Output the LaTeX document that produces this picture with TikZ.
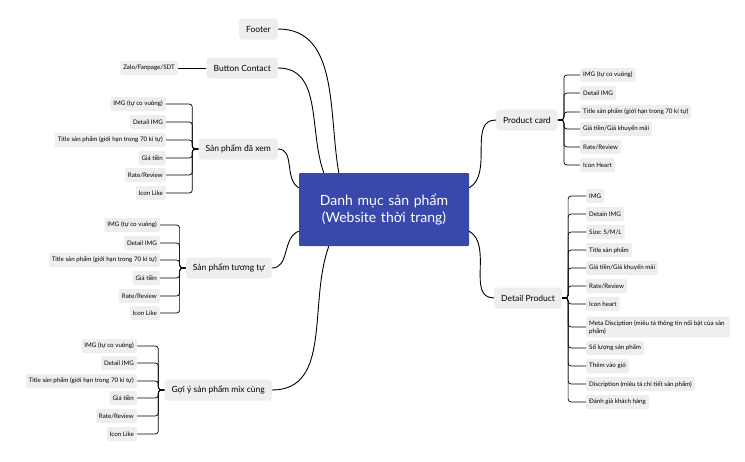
\documentclass[tikz,border=0pt]{standalone}
\usepackage{fontspec}
\setmainfont{Lato}
\usetikzlibrary{positioning}
\definecolor{leafgray}{HTML}{EEEEEE}
\definecolor{rootblue}{HTML}{3949AB}
\tikzset{
  root/.style={rectangle, fill=rootblue, text=white, align=center,
               font=\fontsize{14}{17}\selectfont, minimum width=170pt,
               minimum height=73pt, text width=135pt, rounded corners=1pt},
  branch/.style={rectangle, fill=leafgray, rounded corners=3pt,
                 font=\fontsize{8.5}{10}\selectfont, minimum height=21pt, inner xsep=7pt},
  leaf/.style={rectangle, fill=leafgray, rounded corners=2pt,
               font=\fontsize{6.2}{8}\selectfont, minimum height=14pt, inner xsep=3pt},
  link/.style={draw, line width=0.9pt},
  twig/.style={draw, line width=0.7pt, rounded corners=3pt}
}
\newcommand{\leftleaves}[3]{% parent, x, list of y/text
  \foreach \yy/\tt [count=\i] in {#3} {
    \node[leaf, anchor=east] (#1-\i) at (#2,\yy) {\tt};
    \draw[twig] (#1.west) -- ++(-6,0) |- (#1-\i.east);
  }}
\newcommand{\rightleaves}[3]{%
  \foreach \yy/\tt [count=\i] in {#3} {
    \node[leaf, anchor=west] (#1-\i) at (#2,\yy) {\tt};
    \draw[twig] (#1.east) -- ++(6,0) |- (#1-\i.west);
  }}
\begin{document}
\begin{tikzpicture}[x=1pt, y=-1pt]
  \useasboundingbox (0,0) rectangle (745,461);
  \node[root] (root) at (384,209.5) {Danh mục sản phẩm (Website thời trang)};

  % left side
  \node[branch, anchor=east] (footer) at (278,29) {Footer};
  \node[branch, anchor=east] (contact) at (278,68) {Button Contact};
  \node[leaf, anchor=east] (zalo) at (178,68) {Zalo/Fanpage/SDT};
  \draw[twig] (contact.west) -- (zalo.east);
  \node[branch, anchor=east] (seen) at (278,149) {Sản phẩm đã xem};
  \leftleaves{seen}{166}{104/IMG (tự co vuông), 122/Detail IMG,
    140/Title sản phẩm (giới hạn trong 70 kí tự), 158/Giá tiền,
    175/{Rate/Review}, 193/Icon Like}
  \node[branch, anchor=east] (similar) at (272,268) {Sản phẩm tương tự};
  \leftleaves{similar}{160}{225/IMG (tự co vuông), 243/Detail IMG,
    260/Title sản phẩm (giới hạn trong 70 kí tự), 278/Giá tiền,
    296/{Rate/Review}, 313/Icon Like}
  \node[branch, anchor=east] (mix) at (272,390) {Gợi ý sản phẩm mix cùng};
  \leftleaves{mix}{137}{346/IMG (tự co vuông), 363/Detail IMG,
    381/Title sản phẩm (giới hạn trong 70 kí tự), 398/Giá tiền,
    416/{Rate/Review}, 434/Icon Like}

  % right side
  \node[branch, anchor=west] (card) at (496,120) {Product card};
  \rightleaves{card}{580}{75/IMG (tự co vuông), 93/Detail IMG,
    112/Title sản phẩm (giới hạn trong 70 kí tự), 129/{Giá tiền/Giá khuyến mãi},
    147/{Rate/Review}, 165/Icon Heart}
  \node[branch, anchor=west] (detail) at (494,298) {Detail Product};
  \rightleaves{detail}{586}{196/IMG, 214/Detain IMG, 232/{Size: S/M/L},
    250/Title sản phẩm, 268/{Giá tiền/Giá khuyến mãi}, 286/{Rate/Review},
    304/Icon heart,
    327/{\parbox{138pt}{\raggedright Meta Disciption (miêu tả thông tin nổi bật của sản phẩm)}},
    348/Số lượng sản phẩm, 366/Thêm vào giỏ,
    384/Discription (miêu tả chi tiết sản phẩm), 402/Đánh giá khách hàng}

  % connectors from the root
  \draw[link] (footer.east) to[out=0, in=100] ([xshift=40pt]root.north west);
  \draw[link] (contact.east) to[out=0, in=110] ([xshift=25pt]root.north west);
  \draw[link] (seen.east) to[out=0, in=150] ([yshift=-15pt]root.north west);
  \draw[link] (similar.east) to[out=0, in=200] ([yshift=15pt]root.south west);
  \draw[link] (mix.east) to[out=0, in=250] ([xshift=30pt]root.south west);
  \draw[link] (card.west) to[out=180, in=30] ([yshift=-15pt]root.north east);
  \draw[link] (detail.west) to[out=180, in=-30] ([yshift=15pt]root.south east);
\end{tikzpicture}
\end{document}
